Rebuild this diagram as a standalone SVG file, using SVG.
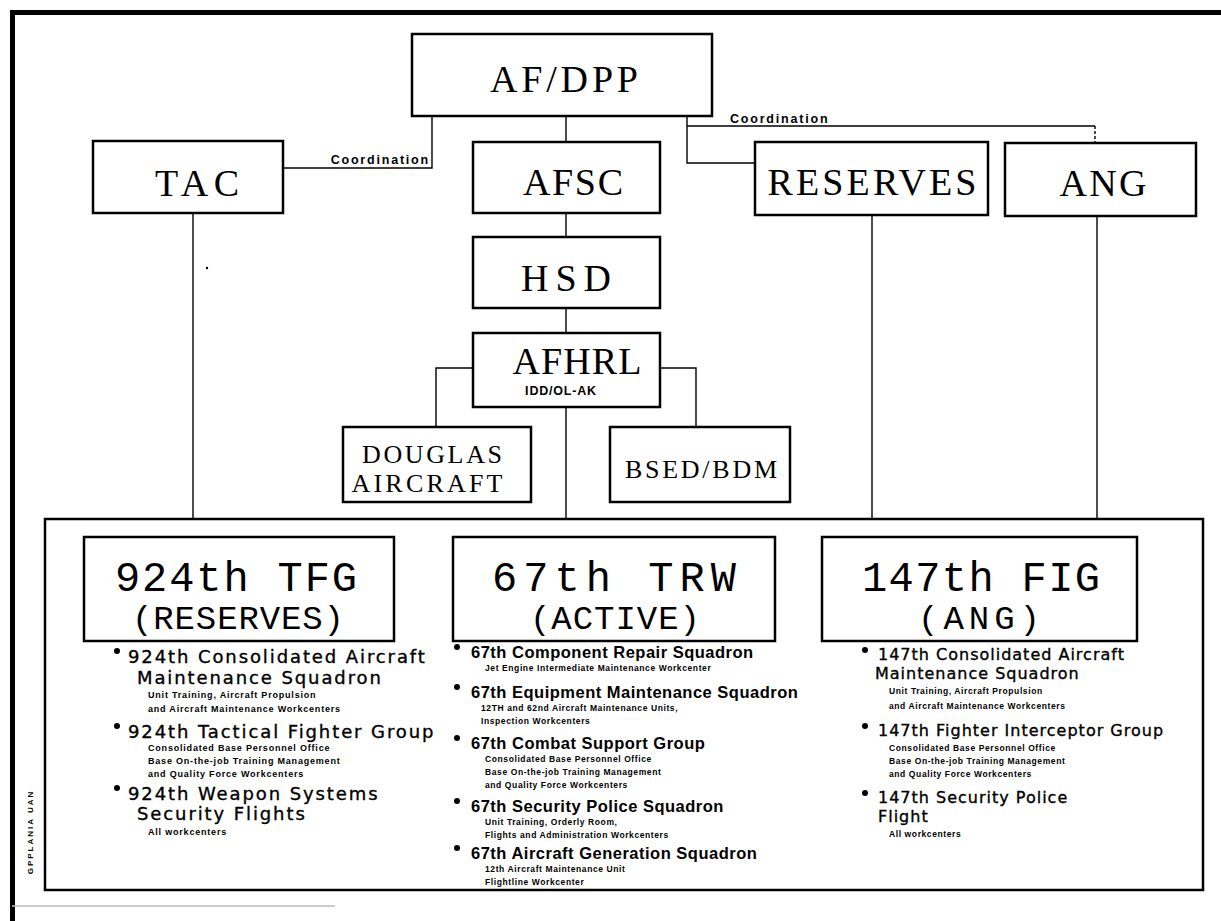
<svg xmlns="http://www.w3.org/2000/svg" width="1221" height="921" viewBox="0 0 1221 921">
<style>
  .box { fill: #fff; stroke: #000; stroke-width: 2.5; }
  .frame { fill: none; stroke: #000; stroke-width: 5; }
  .conn { fill: none; stroke: #000; stroke-width: 1.4; }
  .dash { fill: none; stroke: #000; stroke-width: 1.4; stroke-dasharray: 3 2; }
  .hdr { font-family: "Liberation Serif", serif; font-size: 38px; fill: #000; text-anchor: middle; }
  .hdr2 { font-family: "Liberation Serif", serif; font-size: 26px; fill: #000; text-anchor: middle; }
  .big { font-family: "Liberation Mono", monospace; font-size: 42px; fill: #000; text-anchor: middle; }
  .big2 { font-family: "Liberation Mono", monospace; font-size: 34px; fill: #000; text-anchor: middle; }
  .lbl { font-family: "Liberation Sans", sans-serif; font-weight: bold; font-size: 12.5px; letter-spacing: 1.8px; fill: #000; }
  .subh { font-family: "Liberation Sans", sans-serif; font-weight: bold; font-size: 12.5px; letter-spacing: 0.8px; fill: #000; text-anchor: middle; }
  .itemA { font-family: "DejaVu Sans", sans-serif; font-size: 18px; letter-spacing: 1.9px; fill: #000; stroke: #000; stroke-width: 0.35; }
  .itemC { font-family: "DejaVu Sans", sans-serif; font-size: 16px; letter-spacing: 1.0px; fill: #000; stroke: #000; stroke-width: 0.35; }
  .itemB { font-family: "Liberation Sans", sans-serif; font-weight: bold; font-size: 16.5px; letter-spacing: 0.5px; fill: #000; }
  .sub { font-family: "Liberation Sans", sans-serif; font-weight: bold; font-size: 8.5px; letter-spacing: 0.6px; fill: #000; }
  .subA { font-family: "Liberation Sans", sans-serif; font-weight: bold; font-size: 9px; letter-spacing: 0.8px; fill: #000; }
  .side { font-family: "Liberation Sans", sans-serif; font-weight: bold; font-size: 8px; letter-spacing: 2px; fill: #000; text-anchor: middle; }
  .dot { fill: #000; }
</style>

<!-- outer frame -->
<path class="frame" d="M12.5,921 V12.5 H1221"/>
<line x1="12" y1="906" x2="335" y2="906" stroke="#bbb" stroke-width="1.5"/>
<circle cx="207" cy="268" r="1.2" class="dot"/>

<!-- connectors -->
<g id="connectors">
  <path class="conn" d="M432,116 V168 H283"/>
  <path class="conn" d="M566,116 V142"/>
  <path class="conn" d="M687,116 V163 H755"/>
  <path class="conn" d="M687,126 H1095"/>
  <path class="dash" d="M1095,126 V143"/>
  <path class="conn" d="M566,213 V237"/>
  <path class="conn" d="M566,308 V333"/>
  <path class="conn" d="M473,368 H436 V427"/>
  <path class="conn" d="M660,368 H696 V427"/>
  <path class="conn" d="M566,407 V519"/>
  <path class="conn" d="M193,213 V519"/>
  <path class="conn" d="M872,215 V519"/>
  <path class="conn" d="M1097,216 V519"/>
  <text class="lbl" x="430" y="164" text-anchor="end">Coordination</text>
  <text class="lbl" x="730" y="123">Coordination</text>
</g>

<g id="afdpp">
  <rect class="box" x="412" y="34" width="300" height="82"/>
  <text class="hdr" x="564" y="92" font-size="40" textLength="148" lengthAdjust="spacing">AF/DPP</text>
</g>
<g id="tac">
  <rect class="box" x="93" y="141" width="190" height="72"/>
  <text class="hdr" x="197" y="196" textLength="84" lengthAdjust="spacing">TAC</text>
</g>
<g id="afsc">
  <rect class="box" x="473" y="142" width="187" height="71"/>
  <text class="hdr" x="573" y="195" textLength="100" lengthAdjust="spacing">AFSC</text>
</g>
<g id="reserves">
  <rect class="box" x="755" y="142" width="233" height="73"/>
  <text class="hdr" x="872" y="195" textLength="209" lengthAdjust="spacing">RESERVES</text>
</g>
<g id="ang">
  <rect class="box" x="1005" y="143" width="191" height="73"/>
  <text class="hdr" x="1103" y="196" textLength="87" lengthAdjust="spacing">ANG</text>
</g>
<g id="hsd">
  <rect class="box" x="473" y="237" width="187" height="71"/>
  <text class="hdr" x="566" y="291" textLength="90" lengthAdjust="spacing">HSD</text>
</g>
<g id="afhrl">
  <rect class="box" x="473" y="333" width="187" height="74"/>
  <text class="hdr" x="577" y="374" font-size="34" textLength="129" lengthAdjust="spacing">AFHRL</text>
  <text class="subh" x="561" y="395">IDD/OL-AK</text>
</g>
<g id="douglas">
  <rect class="box" x="343" y="427" width="188" height="75"/>
  <text class="hdr2" x="432" y="463" textLength="140" lengthAdjust="spacing">DOUGLAS</text>
  <text class="hdr2" x="427" y="492" textLength="151" lengthAdjust="spacing">AIRCRAFT</text>
</g>
<g id="bsed">
  <rect class="box" x="610" y="427" width="180" height="75"/>
  <text class="hdr2" x="701" y="478" font-size="30" textLength="152" lengthAdjust="spacing">BSED/BDM</text>
</g>

<g id="units">
  <rect class="box" x="45" y="519" width="1158" height="371"/>
</g>

<g id="tfg924">
  <rect class="box" x="84" y="537" width="310" height="104"/>
  <text class="big" x="236" y="591" textLength="242" lengthAdjust="spacing">924th TFG</text>
  <text class="big2" x="238" y="629" textLength="212" lengthAdjust="spacing">(RESERVES)</text>
  <circle class="dot" cx="117" cy="651" r="3"/>
  <text class="itemA" x="128" y="663">924th Consolidated Aircraft</text>
  <text class="itemA" x="137" y="684">Maintenance Squadron</text>
  <text class="subA" x="148" y="698">Unit Training, Aircraft Propulsion</text>
  <text class="subA" x="148" y="712">and Aircraft Maintenance Workcenters</text>
  <circle class="dot" cx="117" cy="726" r="3"/>
  <text class="itemA" x="128" y="738">924th Tactical Fighter Group</text>
  <text class="subA" x="148" y="751">Consolidated Base Personnel Office</text>
  <text class="subA" x="148" y="764">Base On-the-job Training Management</text>
  <text class="subA" x="148" y="777">and Quality Force Workcenters</text>
  <circle class="dot" cx="117" cy="788" r="3"/>
  <text class="itemA" x="128" y="800">924th Weapon Systems</text>
  <text class="itemA" x="137" y="820">Security Flights</text>
  <text class="subA" x="148" y="835">All workcenters</text>
</g>

<g id="trw67">
  <rect class="box" x="453" y="537" width="322" height="104"/>
  <text class="big" x="614" y="591" textLength="244" lengthAdjust="spacing">67th TRW</text>
  <text class="big2" x="615" y="629" textLength="170" lengthAdjust="spacing">(ACTIVE)</text>
  <circle class="dot" cx="457" cy="647" r="3"/>
  <text class="itemB" x="471" y="658">67th Component Repair Squadron</text>
  <text class="sub" x="485" y="671">Jet Engine Intermediate Maintenance Workcenter</text>
  <circle class="dot" cx="457" cy="687" r="3"/>
  <text class="itemB" x="471" y="698">67th Equipment Maintenance Squadron</text>
  <text class="sub" x="481" y="711">12TH and 62nd Aircraft Maintenance Units,</text>
  <text class="sub" x="481" y="724">Inspection Workcenters</text>
  <circle class="dot" cx="457" cy="738" r="3"/>
  <text class="itemB" x="471" y="749">67th Combat Support Group</text>
  <text class="sub" x="485" y="762">Consolidated Base Personnel Office</text>
  <text class="sub" x="485" y="775">Base On-the-job Training Management</text>
  <text class="sub" x="485" y="788">and Quality Force Workcenters</text>
  <circle class="dot" cx="457" cy="801" r="3"/>
  <text class="itemB" x="471" y="812">67th Security Police Squadron</text>
  <text class="sub" x="485" y="825">Unit Training, Orderly Room,</text>
  <text class="sub" x="485" y="838">Flights and Administration Workcenters</text>
  <circle class="dot" cx="457" cy="848" r="3"/>
  <text class="itemB" x="471" y="859">67th Aircraft Generation Squadron</text>
  <text class="sub" x="485" y="872">12th Aircraft Maintenance Unit</text>
  <text class="sub" x="485" y="885">Flightline Workcenter</text>
</g>

<g id="fig147">
  <rect class="box" x="822" y="537" width="315" height="104"/>
  <text class="big" x="981" y="591" textLength="238" lengthAdjust="spacing">147th FIG</text>
  <text class="big2" x="979" y="629" textLength="122" lengthAdjust="spacing">(ANG)</text>
  <circle class="dot" cx="865" cy="650" r="3"/>
  <text class="itemC" x="878" y="660">147th Consolidated Aircraft</text>
  <text class="itemC" x="875" y="679">Maintenance Squadron</text>
  <text class="sub" x="889" y="694">Unit Training, Aircraft Propulsion</text>
  <text class="sub" x="889" y="709">and Aircraft Maintenance Workcenters</text>
  <circle class="dot" cx="865" cy="726" r="3"/>
  <text class="itemC" x="878" y="736">147th Fighter Interceptor Group</text>
  <text class="sub" x="889" y="751">Consolidated Base Personnel Office</text>
  <text class="sub" x="889" y="764">Base On-the-job Training Management</text>
  <text class="sub" x="889" y="777">and Quality Force Workcenters</text>
  <circle class="dot" cx="865" cy="793" r="3"/>
  <text class="itemC" x="878" y="803">147th Security Police</text>
  <text class="itemC" x="878" y="822">Flight</text>
  <text class="sub" x="889" y="837">All workcenters</text>
</g>

<text class="side" transform="translate(33,832) rotate(-90)">GPPLANIA UAN</text>
</svg>
